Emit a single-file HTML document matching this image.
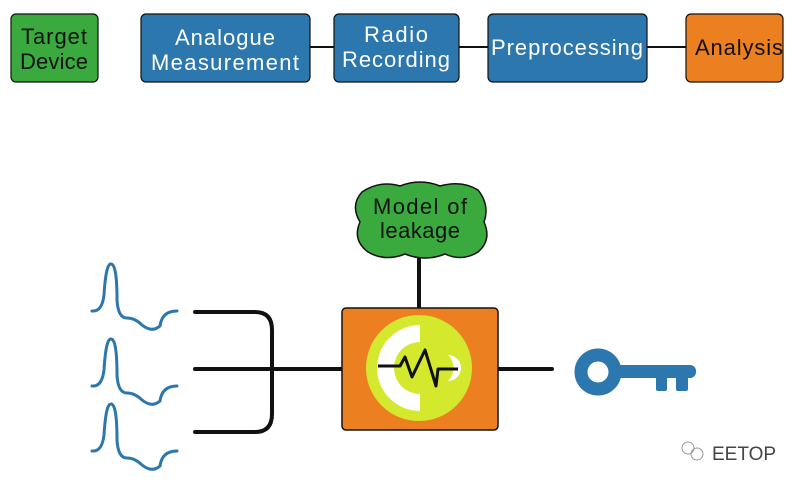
<!DOCTYPE html>
<html><head><style>
body{margin:0;background:#fff;}
svg{display:block}
text{font-family:"Liberation Sans","DejaVu Sans",sans-serif;}
</style></head><body>
<svg width="800" height="485" viewBox="0 0 800 485" xmlns="http://www.w3.org/2000/svg">
<g stroke="#111" stroke-width="2">
<line x1="310" y1="47" x2="334" y2="47"/>
<line x1="459" y1="47" x2="488" y2="47"/>
<line x1="647" y1="47" x2="686" y2="47"/>
</g>
<g stroke="#111" stroke-width="1.2">
<rect x="11" y="14" width="87" height="68" rx="5" fill="#3aaa3f"/>
<rect x="141" y="14" width="169" height="68" rx="5" fill="#2c77ad"/>
<rect x="334" y="14" width="125" height="68" rx="5" fill="#2c77ad"/>
<rect x="488" y="14" width="159" height="68" rx="5" fill="#2c77ad"/>
<rect x="686" y="14" width="97" height="68" rx="5" fill="#ec8020"/>
</g>
<g font-size="22" text-anchor="middle">
<text x="54" y="44" fill="#111" textLength="66">Target</text><text x="54" y="69" fill="#111" textLength="68">Device</text>
<text x="225" y="45" fill="#fff" textLength="100">Analogue</text><text x="225" y="70" fill="#fff" textLength="148">Measurement</text>
<text x="396" y="42" fill="#fff" textLength="64">Radio</text><text x="396" y="67" fill="#fff" textLength="108">Recording</text>
<text x="567" y="55" fill="#fff" textLength="152">Preprocessing</text>
<text x="739" y="55" fill="#111" textLength="88">Analysis</text>
</g>
<g stroke="#111" stroke-width="4" fill="none" stroke-linecap="round">
<line x1="419" y1="255" x2="419" y2="308"/>
<line x1="195" y1="369" x2="342" y2="369"/>
<line x1="498" y1="369" x2="552" y2="369"/>
<path d="M195 312 H255 Q272 312 272 330 V414 Q272 432 255 432 H195"/>
</g>
<path d="M362 192 Q380 180 400 186 Q420 178 440 186 Q462 180 478 190 Q490 205 484 222 Q492 240 478 252 Q462 262 445 254 Q425 262 405 254 Q385 262 368 252 Q352 240 360 222 Q350 205 362 192 Z" fill="#3aaa3f" stroke="#111" stroke-width="1.5"/>
<text x="420" y="214" font-size="22" text-anchor="middle" fill="#111" textLength="94">Model of</text>
<text x="420" y="238" font-size="22" text-anchor="middle" fill="#111" textLength="80">leakage</text>
<rect x="342" y="308" width="156" height="122" rx="4" fill="#ec8020" stroke="#111" stroke-width="1.5"/>
<circle cx="419" cy="368" r="53" fill="#d4e92e"/>
<path d="M420 325 A43 43 0 0 0 420 411 L420 394 A26 26 0 0 1 420 342 Z" fill="#fff"/>
<path d="M448 355 A13 13 0 0 1 448 381 A18 18 0 0 0 448 355 Z" fill="#fff"/>
<polyline points="378,366 400,366 405,357 412,377 425,350 436,386 438,369 458,369" fill="none" stroke="#111" stroke-width="3" stroke-linejoin="round"/>
<g fill="none" stroke="#2c77ad" stroke-width="3" stroke-linecap="round">
<path id="w" d="M92 311 Q102 312 104 295 Q106 263 111 264 Q117 264 117 300 Q118 318 127 318 Q135 318 142 325 Q152 333 160 326 Q162 311 177 311"/>
<use href="#w" y="75"/>
<use href="#w" y="140"/>
</g>
<circle cx="598" cy="372" r="17" fill="none" stroke="#2c77ad" stroke-width="13"/>
<rect x="612" y="365" width="84" height="13" rx="6" fill="#2c77ad"/>
<rect x="656" y="370" width="11" height="21" rx="2" fill="#2c77ad"/>
<rect x="676" y="370" width="12" height="21" rx="2" fill="#2c77ad"/>
<text x="712" y="460" font-size="19" fill="#444">EETOP</text>
<circle cx="688" cy="448" r="6" fill="none" stroke="#999"/>
<circle cx="697" cy="454" r="6" fill="none" stroke="#999"/>
</svg>
</body></html>
